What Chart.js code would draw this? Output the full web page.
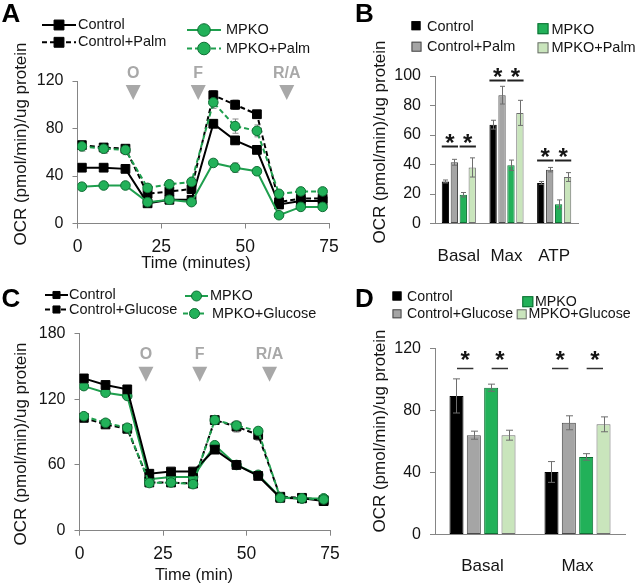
<!DOCTYPE html>
<html>
<head>
<meta charset="utf-8">
<script src="https://cdn.jsdelivr.net/npm/chart.js@4.4.1/dist/chart.umd.min.js"></script>
<style>
  html, body { margin: 0; padding: 0; background: #fff; }
  #wrap { position: relative; width: 640px; height: 585px; }
  #wrap canvas { position: absolute; left: 0; top: 0; }
</style>
</head>
<body>
<div id="wrap">
  <canvas id="chartA" width="640" height="585"></canvas>
  <canvas id="chartB" width="640" height="585"></canvas>
  <canvas id="chartC" width="640" height="585"></canvas>
  <canvas id="chartD" width="640" height="585"></canvas>
</div>
<script>
// ---- data ----
var times = [1.3, 7.8, 14.3, 20.9, 27.4, 34, 40.5, 47, 53.5, 60.1, 66.6, 73.1];

// A: palmitate time course
var palmLabels = ['Control', 'Control+Palm', 'MPKO', 'MPKO+Palm'];
var ocrControl = [47, 47, 46, 17, 20, 20, 84, 70, 62, 16, 19, 19];
var ocrControlPalm = [66, 64, 63, 25, 27, 29, 108, 100, 92, 18, 21, 21];
var ocrMpko = [31, 32, 32, 18, 20, 18, 51, 47, 44, 7, 14, 14];
var ocrMpkoPalm = [65, 63, 62, 30, 33, 35, 102, 82, 78, 25, 27, 27];
var errControl = [2, 2, 2, 2, 2, 2, 3, 3, 3, 2, 2, 2];
var errControlPalm = [3, 3, 3, 2, 3, 3, 4, 4, 3, 2, 2, 2];
var errMpko = [2, 2, 2, 2, 2, 2, 3, 4, 2, 2, 2, 2];
var errMpkoPalm = [4, 4, 4, 3, 3, 4, 5, 6, 5, 2, 2, 2];
var injTimesA = [16.6, 36, 62.4];
var injLabels = ['O', 'F', 'R/A'];

// B: palmitate summary
var mitoCats = ['Basal', 'Max', 'ATP'];
var bControl = [28.5, 67, 27.5];
var bControlPalm = [41.5, 87, 36.5];
var bMpko = [19.5, 39.5, 13];
var bMpkoPalm = [38, 75, 31.5];
var bErrControl = [1, 3, 1];
var bErrControlPalm = [2, 6, 1.5];
var bErrMpko = [1.5, 3.5, 3];
var bErrMpkoPalm = [6.5, 8.5, 3];
var bSigLevels = [52.6, 97, 43];

// C: glucose time course
var glucLabels = ['Control', 'Control+Glucose', 'MPKO', 'MPKO+Glucose'];
var ocrCtlC = [139, 133, 129, 52, 54, 54, 74, 60, 50, 30, 29.5, 27];
var ocrCtlGlucose = [103, 97, 93, 44, 44, 43, 101, 95, 87.5, 31, 30, 28];
var ocrMpkoC = [132, 126, 123, 47, 49, 49, 78, 60, 51, 30.5, 29.5, 29.5];
var ocrMpkoGlucose = [104.5, 98.5, 94, 43.5, 44, 42.5, 101, 96, 91, 30, 29.5, 28.5];
var errCtlC = [2, 2, 2, 2, 2, 2, 2, 2, 2, 1, 1, 1];
var errCtlGlucose = [2, 2, 2, 2, 2, 2, 3, 5, 5, 1, 1, 1];
var errMpkoC = [2, 2, 2, 2, 2, 2, 2, 2, 2, 1, 1, 1];
var errMpkoGlucose = [2, 2, 2, 2, 2, 2, 3, 3, 3, 1, 1, 1];
var injTimesC = [19.9, 36, 56.9];

// D: glucose summary
var dCats = ['Basal', 'Max'];
var dControl = [89.3, 40.3];
var dControlGlucose = [64, 72];
var dMpko = [94.6, 50];
var dMpkoGlucose = [64, 71];
var dErrControl = [11, 6.7];
var dErrControlGlucose = [2.6, 4.5];
var dErrMpko = [2.3, 2.1];
var dErrMpkoGlucose = [3.2, 4.8];
var dSigLevels = [107, 107];

// ---- styles ----
var FONT = "'Liberation Sans', Arial, Helvetica, sans-serif";
var INK = '#141414';
var AXIS = '#858585';
var GREEN_LINE = '#1f9f4e';
var GREEN_FILL = '#22b159';
var GREEN_EDGE = '#0f6e34';
var GREY_BAR = '#a5a5a5';
var LIGHT_GREEN = '#c9e5bc';
var OCR_TITLE = 'OCR (pmol/min)/ug protein';

// ---- plugins ----
var panelText = {
  id: 'panelText',
  afterDraw: function (chart, args, opts) {
    var ctx = chart.ctx;
    (opts.items || []).forEach(function (it) {
      ctx.save();
      ctx.font = it.font;
      ctx.fillStyle = it.color || INK;
      ctx.textAlign = it.align || 'center';
      ctx.textBaseline = it.baseline || 'middle';
      ctx.translate(it.x, it.y);
      if (it.rotate) ctx.rotate(it.rotate);
      ctx.fillText(it.text, 0, 0);
      ctx.restore();
    });
  }
};

function drawMarker(ctx, style, x, y, r) {
  ctx.beginPath();
  if (style === 'rect') {
    var s = r * Math.SQRT1_2;
    ctx.rect(x - s, y - s, 2 * s, 2 * s);
  } else {
    ctx.arc(x, y, r, 0, Math.PI * 2);
  }
  ctx.fill();
  ctx.stroke();
}

var panelLegend = {
  id: 'panelLegend',
  afterDraw: function (chart, args, opts) {
    var ctx = chart.ctx;
    chart.data.datasets.forEach(function (ds, i) {
      var it = opts.items[i];
      ctx.save();
      if (opts.kind === 'line') {
        ctx.strokeStyle = ds.borderColor;
        ctx.lineWidth = ds.borderWidth;
        ctx.setLineDash(ds.borderDash || []);
        ctx.beginPath();
        ctx.moveTo(it.x, it.y);
        ctx.lineTo(it.x + opts.lineLen, it.y);
        ctx.stroke();
        ctx.setLineDash([]);
        ctx.fillStyle = ds.pointBackgroundColor;
        ctx.strokeStyle = ds.pointBorderColor;
        ctx.lineWidth = 1;
        drawMarker(ctx, ds.pointStyle, it.x + opts.lineLen / 2, it.y,
          ds.pointStyle === 'rect' ? opts.rectR : opts.circleR);
      } else {
        var h = it.size / 2;
        ctx.fillStyle = ds.backgroundColor;
        ctx.fillRect(it.x - h, it.y - h, it.size, it.size);
        ctx.strokeStyle = ds.borderColor;
        ctx.lineWidth = 1;
        ctx.strokeRect(it.x - h + 0.5, it.y - h + 0.5, it.size - 1, it.size - 1);
      }
      ctx.font = opts.font;
      ctx.fillStyle = INK;
      ctx.textAlign = 'left';
      ctx.textBaseline = 'middle';
      ctx.fillText(ds.label, it.tx, it.ty || it.y);
      ctx.restore();
    });
  }
};

function drawErrors(chart, opts) {
  var ctx = chart.ctx, yScale = chart.scales.y;
  ctx.save();
  ctx.strokeStyle = opts.color;
  ctx.lineWidth = opts.width || 1;
  opts.errors.forEach(function (errs, d) {
    var meta = chart.getDatasetMeta(d);
    var vals = chart.data.datasets[d].data;
    meta.data.forEach(function (el, i) {
      var v = typeof vals[i] === 'object' ? vals[i].y : vals[i];
      var hi = yScale.getPixelForValue(v + errs[i]);
      var lo = yScale.getPixelForValue(v - errs[i]);
      var x = Math.round(el.x) + 0.5;
      ctx.beginPath();
      ctx.moveTo(x, hi); ctx.lineTo(x, lo);
      ctx.moveTo(x - opts.cap, hi); ctx.lineTo(x + opts.cap, hi);
      ctx.moveTo(x - opts.cap, lo); ctx.lineTo(x + opts.cap, lo);
      ctx.stroke();
    });
  });
  ctx.restore();
}

var errorBars = {
  id: 'errorBars',
  beforeDatasetsDraw: function (chart, args, opts) {
    if (opts.layer === 'below') drawErrors(chart, opts);
  },
  afterDatasetsDraw: function (chart, args, opts) {
    if (opts.layer !== 'below') drawErrors(chart, opts);
  }
};

var injections = {
  id: 'injections',
  afterDraw: function (chart, args, opts) {
    var ctx = chart.ctx, xs = chart.scales.x;
    ctx.save();
    ctx.fillStyle = '#a8a8a8';
    ctx.font = 'bold 16px ' + FONT;
    ctx.textAlign = 'center';
    ctx.textBaseline = 'middle';
    opts.times.forEach(function (t, i) {
      var x = xs.getPixelForValue(t);
      ctx.fillText(opts.labels[i], x, opts.textY);
      ctx.beginPath();
      ctx.moveTo(x - 7.5, opts.triTop);
      ctx.lineTo(x + 7.5, opts.triTop);
      ctx.lineTo(x, opts.triBottom);
      ctx.closePath();
      ctx.fill();
    });
    ctx.restore();
  }
};

var sigMarks = {
  id: 'sigMarks',
  afterDatasetsDraw: function (chart, args, opts) {
    var ctx = chart.ctx, ys = chart.scales.y;
    ctx.save();
    ctx.strokeStyle = opts.color;
    ctx.fillStyle = INK;
    ctx.lineWidth = opts.lineWidth;
    ctx.font = 'bold 24px ' + FONT;
    ctx.textAlign = 'center';
    ctx.textBaseline = 'alphabetic';
    var m = ctx.measureText('*');
    var shift = (m.actualBoundingBoxAscent - m.actualBoundingBoxDescent) / 2;
    opts.levels.forEach(function (lvl, c) {
      opts.pairs.forEach(function (p) {
        var a = chart.getDatasetMeta(p[0]).data[c];
        var b = chart.getDatasetMeta(p[1]).data[c];
        var x0 = a.x - a.width / 2 + opts.inset;
        var x1 = b.x + b.width / 2 - opts.inset;
        var y = Math.round(ys.getPixelForValue(lvl)) + 0.5;
        ctx.beginPath();
        ctx.moveTo(x0, y);
        ctx.lineTo(x1, y);
        ctx.stroke();
        ctx.fillText('*', (x0 + x1) / 2, y - opts.gap + shift);
      });
    });
    ctx.restore();
  }
};

// ---- helpers ----
function fixW(w) { return function (scale) { scale.width = w; }; }
function fixH(h) { return function (scale) { scale.height = h; }; }

function area(left, top, right, bottom) {
  // y axis box is 60 wide, x axis box 40 high
  return { left: left - 60, top: top, right: 640 - right, bottom: 585 - bottom - 40 };
}

function yAxis(max, step) {
  return {
    min: 0, max: max,
    afterFit: fixW(60),
    border: { color: AXIS, width: 1 },
    grid: { drawOnChartArea: false, drawTicks: true, tickLength: 5, color: AXIS },
    ticks: { stepSize: step, padding: 9, color: INK, font: { family: FONT, size: 16 } }
  };
}

function timeAxis(pad) {
  return {
    type: 'linear', min: 0, max: 75,
    afterFit: fixH(40),
    border: { color: AXIS, width: 1 },
    grid: { drawOnChartArea: false, drawTicks: true, tickLength: 5, color: AXIS },
    ticks: { stepSize: 25, padding: pad, color: INK, maxRotation: 0, font: { family: FONT, size: 17.5 } }
  };
}

function catAxis(pad) {
  return {
    afterFit: fixH(40),
    border: { display: true, color: AXIS, width: 1 },
    grid: { display: false },
    ticks: { padding: pad, color: INK, autoSkip: false, minRotation: 0, maxRotation: 0, font: { family: FONT, size: 17 } }
  };
}

function points(vals) {
  return times.map(function (t, i) { return { x: t, y: vals[i] }; });
}

function lineSet(label, vals, green, dashed, order) {
  return {
    label: label,
    data: points(vals),
    order: order,
    borderColor: green ? GREEN_LINE : '#000',
    borderWidth: 2,
    borderDash: dashed ? [5, 3] : [],
    pointStyle: green ? 'circle' : 'rect',
    pointRadius: green ? 4.8 : 6.2,
    pointBackgroundColor: green ? GREEN_FILL : '#000',
    pointBorderColor: green ? GREEN_EDGE : '#000',
    pointBorderWidth: 1,
    tension: 0,
    fill: false
  };
}

function barSet(label, vals, fill, edge) {
  return {
    label: label,
    data: vals,
    backgroundColor: fill,
    borderColor: edge,
    borderWidth: 1,
    borderSkipped: false
  };
}

function titleItems(yx, yy, xt, xx, xy, letter, lx, ly) {
  var items = [
    { text: OCR_TITLE, x: yx, y: yy, rotate: -Math.PI / 2, font: '17px ' + FONT },
    { text: letter, x: lx, y: ly, align: 'left', baseline: 'alphabetic', font: 'bold 26px ' + FONT, color: '#000' }
  ];
  if (xt) items.push({ text: xt, x: xx, y: xy, font: '16.5px ' + FONT });
  return items;
}

var common = {
  animation: false,
  responsive: false,
  events: []
};

// ---- A ----
new Chart(document.getElementById('chartA'), {
  type: 'line',
  data: {
    datasets: [
      lineSet(palmLabels[0], ocrControl, false, false, 2),
      lineSet(palmLabels[1], ocrControlPalm, false, true, 3),
      lineSet(palmLabels[2], ocrMpko, true, false, 1),
      lineSet(palmLabels[3], ocrMpkoPalm, true, true, 0)
    ]
  },
  options: Object.assign({}, common, {
    layout: { padding: area(77.5, 81, 329, 223.5) },
    scales: { x: timeAxis(8), y: yAxis(120, 40) },
    plugins: {
      legend: { display: false },
      tooltip: { enabled: false },
      errorBars: { layer: 'below', color: '#8a8a8a', cap: 3, errors: [errControl, errControlPalm, errMpko, errMpkoPalm] },
      injections: { times: injTimesA, labels: injLabels, textY: 74, triTop: 85, triBottom: 100 },
      panelLegend: {
        kind: 'line', lineLen: 34, rectR: 7, circleR: 6.3, font: '14.5px ' + FONT,
        items: [
          { x: 42, y: 25, tx: 78 },
          { x: 42, y: 42.3, tx: 78 },
          { x: 187, y: 30, tx: 226 },
          { x: 187, y: 48.5, tx: 226 }
        ]
      },
      panelText: { items: titleItems(21, 144, 'Time (minutes)', 196, 263, 'A', 1.5, 21.7) }
    }
  }),
  plugins: [errorBars, injections, panelLegend, panelText]
});

// ---- B ----
new Chart(document.getElementById('chartB'), {
  type: 'bar',
  data: {
    labels: mitoCats,
    datasets: [
      barSet(palmLabels[0], bControl, '#000', '#000'),
      barSet(palmLabels[1], bControlPalm, GREY_BAR, '#4a4a4a'),
      barSet(palmLabels[2], bMpko, GREEN_FILL, GREEN_EDGE),
      barSet(palmLabels[3], bMpkoPalm, LIGHT_GREEN, '#6e6e6e')
    ]
  },
  options: Object.assign({}, common, {
    layout: { padding: area(435, 76, 578, 223.5) },
    datasets: { bar: { categoryPercentage: 0.75, barPercentage: 0.82 } },
    scales: { x: catAxis(15), y: yAxis(100, 20) },
    plugins: {
      legend: { display: false },
      tooltip: { enabled: false },
      errorBars: { layer: 'above', color: '#6e6e6e', cap: 2.5, errors: [bErrControl, bErrControlPalm, bErrMpko, bErrMpkoPalm] },
      sigMarks: { levels: bSigLevels, pairs: [[0, 1], [2, 3]], inset: 0, gap: 7.7, color: '#222', lineWidth: 2 },
      panelLegend: {
        kind: 'box', font: '14.5px ' + FONT,
        items: [
          { x: 416, y: 25.7, size: 9, tx: 427, ty: 27 },
          { x: 416.5, y: 46.7, size: 10, tx: 427, ty: 47 },
          { x: 543, y: 28.7, size: 11, tx: 551.5, ty: 29.5 },
          { x: 543, y: 47.8, size: 11, tx: 551.5, ty: 47.5 }
        ]
      },
      panelText: { items: titleItems(380, 142, null, 0, 0, 'B', 355, 21.7) }
    }
  }),
  plugins: [errorBars, sigMarks, panelLegend, panelText]
});

// ---- C ----
new Chart(document.getElementById('chartC'), {
  type: 'line',
  data: {
    datasets: [
      lineSet(glucLabels[0], ocrCtlC, false, false, 1),
      lineSet(glucLabels[1], ocrCtlGlucose, false, true, 3),
      lineSet(glucLabels[2], ocrMpkoC, true, false, 2),
      lineSet(glucLabels[3], ocrMpkoGlucose, true, true, 0)
    ]
  },
  options: Object.assign({}, common, {
    layout: { padding: area(79.5, 333.5, 330, 530.7) },
    scales: { x: timeAxis(7.5), y: yAxis(180, 60) },
    plugins: {
      legend: { display: false },
      tooltip: { enabled: false },
      errorBars: { layer: 'below', color: '#8a8a8a', cap: 3, errors: [errCtlC, errCtlGlucose, errMpkoC, errMpkoGlucose] },
      injections: { times: injTimesC, labels: injLabels, textY: 355, triTop: 366.7, triBottom: 381.7 },
      panelLegend: {
        kind: 'line', lineLen: 23, rectR: 5, circleR: 5, font: '14.5px ' + FONT,
        items: [
          { x: 45, y: 295, tx: 69 },
          { x: 45, y: 309.5, tx: 69 },
          { x: 185, y: 296, tx: 210 },
          { x: 183, y: 313.5, tx: 212 }
        ]
      },
      panelText: { items: titleItems(21, 444, 'Time (min)', 194, 575, 'C', 1.5, 307) }
    }
  }),
  plugins: [errorBars, injections, panelLegend, panelText]
});

// ---- D ----
new Chart(document.getElementById('chartD'), {
  type: 'bar',
  data: {
    labels: dCats,
    datasets: [
      barSet(glucLabels[0], dControl, '#000', '#000'),
      barSet(glucLabels[1], dControlGlucose, GREY_BAR, '#4a4a4a'),
      barSet(glucLabels[2], dMpko, GREEN_FILL, GREEN_EDGE),
      barSet(glucLabels[3], dMpkoGlucose, LIGHT_GREEN, '#6e6e6e')
    ]
  },
  options: Object.assign({}, common, {
    layout: { padding: area(435, 348.3, 625, 534.5) },
    datasets: { bar: { categoryPercentage: 0.73, barPercentage: 0.81 } },
    scales: { x: catAxis(13.5), y: yAxis(120, 40) },
    plugins: {
      legend: { display: false },
      tooltip: { enabled: false },
      errorBars: { layer: 'above', color: '#6e6e6e', cap: 3.5, errors: [dErrControl, dErrControlGlucose, dErrMpko, dErrMpkoGlucose] },
      sigMarks: { levels: dSigLevels, pairs: [[0, 1], [2, 3]], inset: 7.5, gap: 13, color: '#333', lineWidth: 1.5 },
      panelLegend: {
        kind: 'box', font: '14.2px ' + FONT,
        items: [
          { x: 397, y: 296, size: 9, tx: 407, ty: 296.7 },
          { x: 397, y: 313.8, size: 9, tx: 407, ty: 314 },
          { x: 527.8, y: 301.7, size: 11, tx: 535, ty: 302 },
          { x: 521.7, y: 314.3, size: 10, tx: 528.5, ty: 314.3 }
        ]
      },
      panelText: { items: titleItems(380, 431, null, 0, 0, 'D', 355, 307) }
    }
  }),
  plugins: [errorBars, sigMarks, panelLegend, panelText]
});
</script>
</body>
</html>
